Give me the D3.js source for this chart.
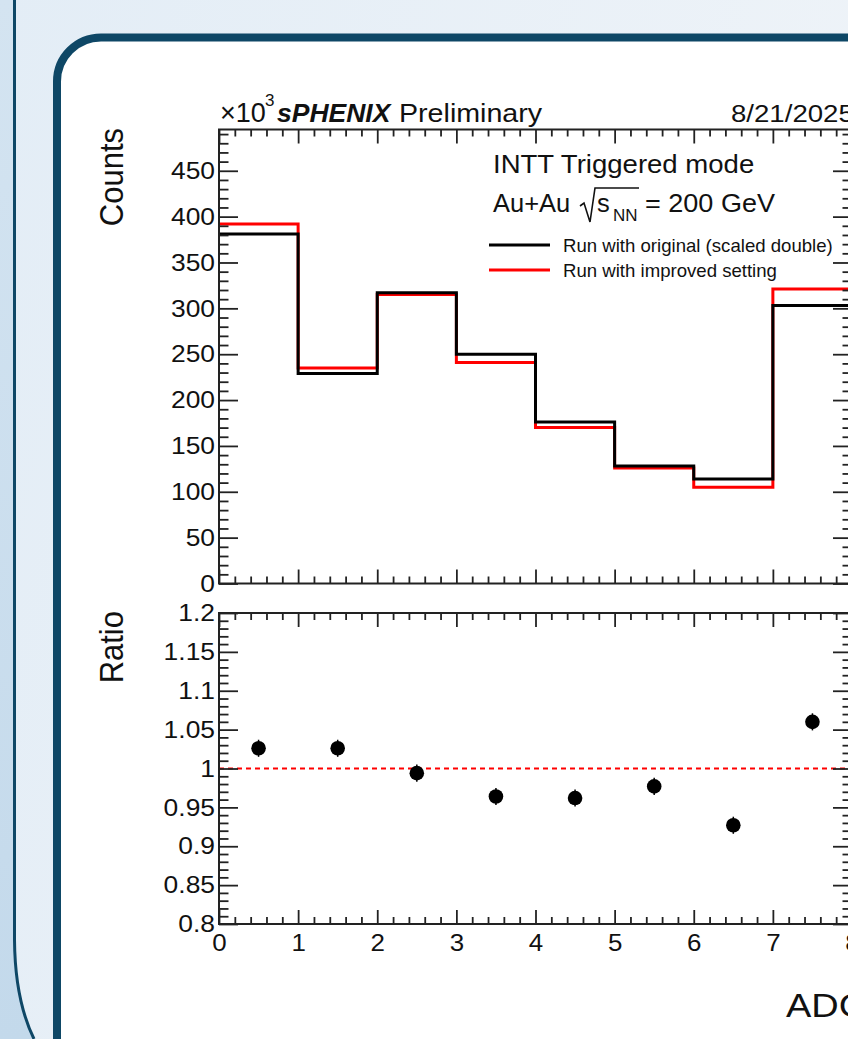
<!DOCTYPE html>
<html>
<head>
<meta charset="utf-8">
<script src="https://cdn.jsdelivr.net/npm/d3@7"></script>
<style>
  body { margin: 0; overflow: hidden; background: #fff; }
  svg { display: block; font-family: "Liberation Sans", Arial, Helvetica, sans-serif; }
</style>
</head>
<body>
<script>
// data (counts in units of 10^3)
let binEdges = [0, 1, 2, 3, 4, 5, 6, 7, 8];
let countsOriginal = [381, 229, 317, 250, 176, 128, 114, 303];
let countsImproved = [392, 235, 315, 241, 170, 126, 105, 321];
let ratioX = [0.5, 1.5, 2.5, 3.5, 4.5, 5.5, 6.5, 7.5];
let ratioVal = [1.026, 1.026, 0.994, 0.964, 0.962, 0.977, 0.927, 1.060];
let ratioErr = [0.011, 0.011, 0.011, 0.011, 0.011, 0.011, 0.011, 0.011];

let countTicks = [0, 50, 100, 150, 200, 250, 300, 350, 400, 450];
let ratioTicks = [0.8, 0.85, 0.9, 0.95, 1, 1.05, 1.1, 1.15, 1.2];
let xTicks = [0, 1, 2, 3, 4, 5, 6, 7, 8];
let legendNames = ["Run with original (scaled double)", "Run with improved setting"];
let colors = ["#000000", "#ff0000"];

let w = 848, h = 1039;
let left = 219, right = 852;
let topT = 129.5, botT = 583.5;
let topB = 613, botB = 924;

let svg = d3.select("body").append("svg").attr("width", w).attr("height", h);

// ---- slide background ----
let defs = svg.append("defs");
let bg = defs.append("linearGradient").attr("id", "bg").attr("x1", 0).attr("x2", 1).attr("y1", 0).attr("y2", 0.3);
bg.append("stop").attr("offset", 0).attr("stop-color", "#e3edf6");
bg.append("stop").attr("offset", 1).attr("stop-color", "#eef3f8");
let side = defs.append("linearGradient").attr("id", "side").attr("x1", 0).attr("x2", 0).attr("y1", 0).attr("y2", 1);
side.append("stop").attr("offset", 0).attr("stop-color", "#d4e4f1");
side.append("stop").attr("offset", 1).attr("stop-color", "#c3d9eb");

svg.append("rect").attr("width", w).attr("height", h).attr("fill", "url(#bg)");
svg.append("path")
   .attr("d", "M0,0 H14.5 V940 Q15,1000 34,1039 H0 Z")
   .attr("fill", "url(#side)");
svg.append("path")
   .attr("d", "M14.5,0 V940 Q15,1000 34,1039")
   .attr("fill", "none").attr("stroke", "#0e4766").attr("stroke-width", 3);

svg.append("rect")
   .attr("x", 57).attr("y", 37.5)
   .attr("width", 900).attr("height", 1100)
   .attr("rx", 44).attr("ry", 44)
   .attr("fill", "#ffffff")
   .attr("stroke", "#0e4766").attr("stroke-width", 8);

// ---- scales ----
let xScale = d3.scaleLinear().domain([0, 8]).range([left, right]);
let yTop = d3.scaleLinear().domain([0, 495]).range([botT, topT]);
let yBot = d3.scaleLinear().domain([0.8, 1.2]).range([botB, topB]);

let xMinor = d3.range(0, 8.01, 0.2).filter(d => Math.abs(d - Math.round(d)) > 0.01);
let yTopMinor = d3.range(0, 495, 10).filter(d => d % 50 !== 0);
let yBotMinor = d3.range(80, 121).filter(d => d % 5 !== 0).map(d => d / 100);

function stretch(sel, k) {
  sel.each(function () {
    let len = this.getComputedTextLength();
    d3.select(this).attr("textLength", len * k).attr("lengthAdjust", "spacingAndGlyphs");
  });
}

function styleAxis(g) {
  g.select(".domain").remove();
  g.selectAll("line").attr("stroke", "#222").attr("stroke-width", 1.8);
  g.selectAll("text").attr("fill", "#111").style("font-size", "24px")
   .style("font-family", "'Liberation Sans', Arial, sans-serif");
}

function frame(yS, yTicks, yMinor, yT, yB, labelX, yFmt) {
  // bottom & top x axes (ticks inside)
  svg.append("g").attr("transform", "translate(0," + yB + ")")
     .call(d3.axisBottom(xScale).tickValues(xTicks).tickSize(-14).tickSizeOuter(0)
       .tickPadding(10).tickFormat(labelX ? d3.format("d") : ""))
     .call(styleAxis)
     .call(g => stretch(g.selectAll("text"), 1.08));
  svg.append("g").attr("transform", "translate(0," + yB + ")")
     .call(d3.axisBottom(xScale).tickValues(xMinor).tickSize(-7).tickSizeOuter(0).tickFormat(""))
     .call(styleAxis);
  svg.append("g").attr("transform", "translate(0," + yT + ")")
     .call(d3.axisTop(xScale).tickValues(xTicks).tickSize(-14).tickSizeOuter(0).tickFormat(""))
     .call(styleAxis);
  svg.append("g").attr("transform", "translate(0," + yT + ")")
     .call(d3.axisTop(xScale).tickValues(xMinor).tickSize(-7).tickSizeOuter(0).tickFormat(""))
     .call(styleAxis);
  // left & right y axes
  svg.append("g").attr("transform", "translate(" + left + ",0)")
     .call(d3.axisLeft(yS).tickValues(yTicks).tickSize(-19).tickSizeOuter(0).tickPadding(4).tickFormat(yFmt))
     .call(styleAxis)
     .call(g => stretch(g.selectAll("text"), 1.1));
  svg.append("g").attr("transform", "translate(" + left + ",0)")
     .call(d3.axisLeft(yS).tickValues(yMinor).tickSize(-9.5).tickSizeOuter(0).tickFormat(""))
     .call(styleAxis);
  svg.append("g").attr("transform", "translate(" + right + ",0)")
     .call(d3.axisRight(yS).tickValues(yTicks).tickSize(-19).tickSizeOuter(0).tickFormat(""))
     .call(styleAxis);
  svg.append("g").attr("transform", "translate(" + right + ",0)")
     .call(d3.axisRight(yS).tickValues(yMinor).tickSize(-9.5).tickSizeOuter(0).tickFormat(""))
     .call(styleAxis);
  svg.append("rect")
     .attr("x", left).attr("y", yT)
     .attr("width", right - left).attr("height", yB - yT)
     .attr("fill", "none").attr("stroke", "#222").attr("stroke-width", 2);
}

// ---- top panel: histograms ----
let stepLine = d3.line()
  .x(d => xScale(d[0]))
  .y(d => yTop(d[1]))
  .curve(d3.curveStepAfter);

function histPoints(vals) {
  let pts = vals.map((v, i) => [binEdges[i], v]);
  pts.push([binEdges[vals.length], vals[vals.length - 1]]);
  return pts;
}

svg.append("path")
   .attr("d", stepLine(histPoints(countsImproved)))
   .attr("fill", "none").attr("stroke", colors[1]).attr("stroke-width", 3);
svg.append("path")
   .attr("d", stepLine(histPoints(countsOriginal)))
   .attr("fill", "none").attr("stroke", colors[0]).attr("stroke-width", 3);

frame(yTop, countTicks, yTopMinor, topT, botT, false, d3.format("d"));

// ---- bottom panel: ratio ----
svg.append("line")
   .attr("x1", xScale(0)).attr("x2", xScale(8))
   .attr("y1", yBot(1)).attr("y2", yBot(1))
   .attr("stroke", "#ff0000").attr("stroke-width", 2)
   .attr("stroke-dasharray", "5,4");

svg.append("g").selectAll("line")
   .data(ratioVal).enter().append("line")
   .attr("x1", (d, i) => xScale(ratioX[i])).attr("x2", (d, i) => xScale(ratioX[i]))
   .attr("y1", (d, i) => yBot(d - ratioErr[i])).attr("y2", (d, i) => yBot(d + ratioErr[i]))
   .attr("stroke", "#000").attr("stroke-width", 1.5);

svg.append("g").selectAll("circle")
   .data(ratioVal).enter().append("circle")
   .attr("cx", (d, i) => xScale(ratioX[i]))
   .attr("cy", d => yBot(d))
   .attr("r", 7.3)
   .attr("fill", "#000");

frame(yBot, ratioTicks, yBotMinor, topB, botB, true, d => String(+d.toFixed(2)));

// ---- titles ----
svg.append("text")
   .attr("transform", "translate(123,128) scale(1.1,1) rotate(-90)")
   .attr("text-anchor", "end")
   .style("font-size", "31px").attr("fill", "#111")
   .text("Counts");
svg.append("text")
   .attr("transform", "translate(123,611) scale(1.1,1) rotate(-90)")
   .attr("text-anchor", "end")
   .style("font-size", "31px").attr("fill", "#111")
   .text("Ratio");
svg.append("text")
   .attr("x", 786).attr("y", 1017)
   .style("font-size", "33px").attr("fill", "#111")
   .text("ADC")
   .call(t => stretch(t, 1.15));

// header
svg.append("text").attr("x", 220).attr("y", 122)
   .style("font-size", "27px").attr("fill", "#111").text("×10");
svg.append("text").attr("x", 265).attr("y", 106)
   .style("font-size", "17px").attr("fill", "#111").text("3");
svg.append("text").attr("x", 277).attr("y", 122)
   .style("font-size", "26.5px").style("font-weight", "bold").style("font-style", "italic")
   .attr("fill", "#111").text("sPHENIX");
svg.append("text").attr("x", 399).attr("y", 122)
   .style("font-size", "26.5px").attr("fill", "#111").text("Preliminary")
   .call(t => stretch(t, 1.08));
svg.append("text").attr("x", 731).attr("y", 122)
   .style("font-size", "23px").attr("fill", "#111").text("8/21/2025")
   .call(t => stretch(t, 1.2));

// legend header
svg.append("text").attr("x", 493).attr("y", 173)
   .style("font-size", "25.5px").attr("fill", "#111").text("INTT Triggered mode")
   .call(t => stretch(t, 1.08));
svg.append("text").attr("x", 493).attr("y", 212)
   .style("font-size", "25.5px").attr("fill", "#111").text("Au+Au");
svg.append("path")
   .attr("d", "M580,206 L584,203 L590,222 L595,188 H639")
   .attr("fill", "none").attr("stroke", "#111").attr("stroke-width", 1.6);
svg.append("text").attr("x", 597).attr("y", 212)
   .style("font-size", "25.5px").attr("fill", "#111").text("s");
svg.append("text").attr("x", 613).attr("y", 221)
   .style("font-size", "17px").attr("fill", "#111").text("NN");
svg.append("text").attr("x", 645).attr("y", 212)
   .style("font-size", "25.5px").attr("fill", "#111").text("= 200 GeV")
   .call(t => stretch(t, 1.06));

// legend entries
let legend = svg.selectAll(".legend")
  .data(legendNames).enter().append("g")
  .attr("class", "legend")
  .attr("transform", (d, i) => "translate(0," + (245 + i * 25) + ")");
legend.append("line")
  .attr("x1", 489).attr("x2", 550)
  .attr("stroke", (d, i) => colors[i]).attr("stroke-width", 3);
legend.append("text")
  .attr("x", 563).attr("y", 6.5)
  .style("font-size", "18.6px").attr("fill", "#111")
  .text(d => d);
</script>
</body>
</html>
